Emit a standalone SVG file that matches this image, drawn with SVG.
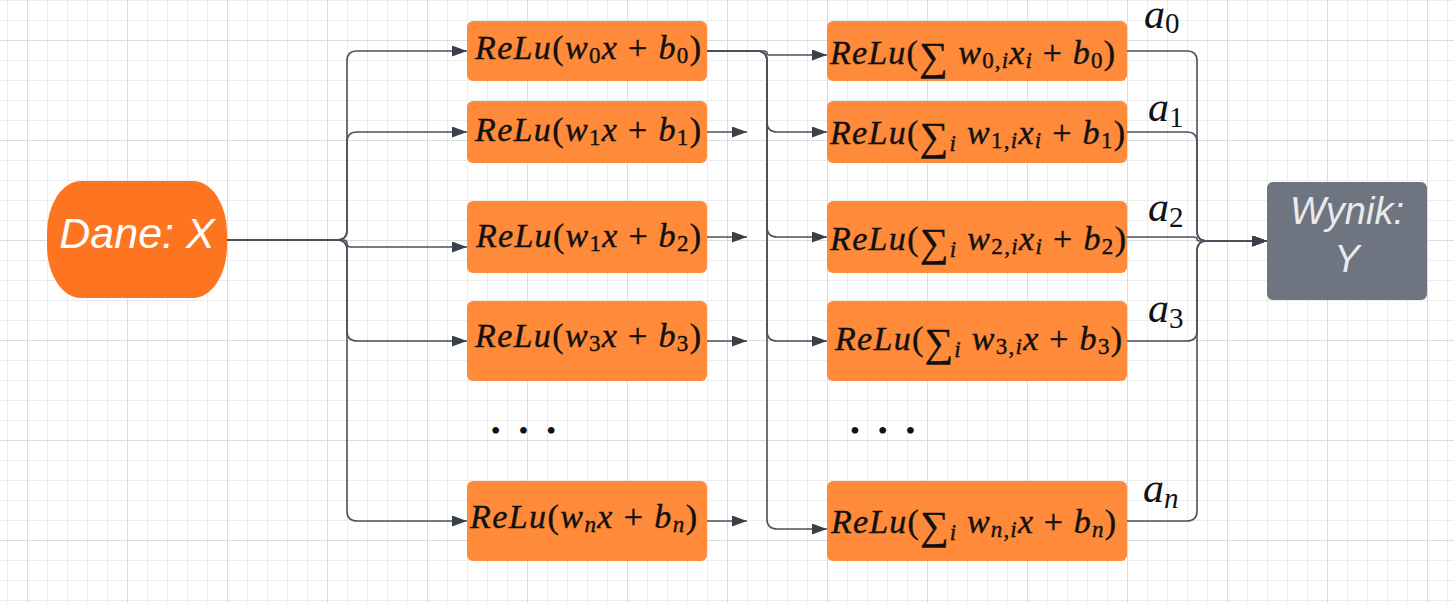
<svg xmlns="http://www.w3.org/2000/svg" width="1454" height="603" viewBox="0 0 1454 603">
<defs>
<style>
.box{fill:#fe8a3a}
.m{font-family:"Liberation Serif","DejaVu Serif",serif;font-size:34px;fill:#111;stroke:#111;stroke-width:0.4}
.i{font-style:italic}
.s{font-size:23px}
.op{font-size:40px}
.lab{font-family:"Liberation Serif","DejaVu Serif",serif;font-size:42px;fill:#111}
.ls{font-size:29px}
.dots{font-family:"Liberation Serif","DejaVu Serif",serif;font-size:28px;fill:#111;letter-spacing:17.9px}
.c{fill:none;stroke:#4b515c;stroke-width:1.6;marker-end:url(#arr)}
.sans{font-family:"Liberation Sans",Arial,sans-serif;font-style:italic}
</style>
<pattern id="minor" patternUnits="userSpaceOnUse" x="7" y="0" width="20" height="20">
<path d="M0.5 0V20M0 0.5H20" stroke="#ececec" stroke-width="1" fill="none"/>
</pattern>
<pattern id="major" patternUnits="userSpaceOnUse" x="27" y="40" width="100" height="100">
<path d="M0.5 0V100M0 0.5H100" stroke="#dcdcdc" stroke-width="1" fill="none"/>
</pattern>
<marker id="arr" markerUnits="userSpaceOnUse" markerWidth="16" markerHeight="12" refX="15" refY="5.5" orient="auto">
<path d="M0 0L15 5.5L0 11z" fill="#3a404a"/>
</marker>
</defs>
<rect width="1454" height="603" fill="#fff"/>
<rect width="1454" height="603" fill="url(#minor)"/>
<rect width="1454" height="603" fill="url(#major)"/>

<g id="connectors">
<path class="c" d="M227 240H337Q347 240 347 230V61Q347 51 357 51H467"/>
<path class="c" d="M227 240H337Q347 240 347 230V142Q347 132 357 132H467"/>
<path class="c" d="M227 240H343.5Q347 240 347 243.5Q347 247 350.5 247H467"/>
<path class="c" d="M227 240H337Q347 240 347 250V331Q347 341 357 341H467"/>
<path class="c" d="M227 240H337Q347 240 347 250V511Q347 521 357 521H467"/>
<path class="c" d="M707 51H763Q767 51 767 53Q767 55 769 55H827"/>
<path class="c" d="M707 51H757Q767 51 767 61V122Q767 132 777 132H827"/>
<path class="c" d="M707 51H757Q767 51 767 61V227Q767 237 777 237H827"/>
<path class="c" d="M707 51H757Q767 51 767 61V331Q767 341 777 341H827"/>
<path class="c" d="M707 51H757Q767 51 767 61V519Q767 529 777 529H827"/>
<path class="c" d="M707 132H747"/>
<path class="c" d="M707 237H747"/>
<path class="c" d="M707 341H747"/>
<path class="c" d="M707 521H747"/>
<path class="c" d="M1127 51H1187Q1197 51 1197 61V231Q1197 241 1207 241H1267"/>
<path class="c" d="M1127 132H1187Q1197 132 1197 142V231Q1197 241 1207 241H1267"/>
<path class="c" d="M1127 237H1193Q1197 237 1197 239Q1197 241 1199 241H1267"/>
<path class="c" d="M1127 341H1187Q1197 341 1197 331V251Q1197 241 1207 241H1267"/>
<path class="c" d="M1127 521H1187Q1197 521 1197 511V251Q1197 241 1207 241H1267"/>
</g>

<g id="dane">
<rect x="47" y="181" width="180" height="117" rx="34" ry="52" fill="#fd7520"/>
<text class="sans" x="137" y="248" text-anchor="middle" font-size="43" fill="#fff">Dane: X</text>
</g>

<g id="wynik">
<rect x="1267" y="182" width="160" height="118" rx="6" fill="#6f7481"/>
<text class="sans" x="1347" y="224" text-anchor="middle" font-size="38" fill="#e9eaec">Wynik:</text>
<text class="sans" x="1347" y="272" text-anchor="middle" font-size="38" fill="#e9eaec">Y</text>
</g>

<g id="h0">
<rect class="box" x="467" y="21" width="240" height="60" rx="6"/>
<text class="m" x="475" y="59" textLength="226" lengthAdjust="spacing"><tspan class="i">ReLu</tspan>(<tspan class="i">w</tspan><tspan class="s" dy="4">0</tspan><tspan class="i" dy="-4">x</tspan> + <tspan class="i">b</tspan><tspan class="s" dy="4">0</tspan><tspan dy="-4">)</tspan></text>
</g>
<g id="h1">
<rect class="box" x="467" y="101" width="240" height="62" rx="6"/>
<text class="m" x="475" y="141" textLength="226" lengthAdjust="spacing"><tspan class="i">ReLu</tspan>(<tspan class="i">w</tspan><tspan class="s" dy="4">1</tspan><tspan class="i" dy="-4">x</tspan> + <tspan class="i">b</tspan><tspan class="s" dy="4">1</tspan><tspan dy="-4">)</tspan></text>
</g>
<g id="h2">
<rect class="box" x="467" y="201" width="240" height="72" rx="6"/>
<text class="m" x="476" y="247" textLength="225" lengthAdjust="spacing"><tspan class="i">ReLu</tspan>(<tspan class="i">w</tspan><tspan class="s" dy="4">1</tspan><tspan class="i" dy="-4">x</tspan> + <tspan class="i">b</tspan><tspan class="s" dy="4">2</tspan><tspan dy="-4">)</tspan></text>
</g>
<g id="h3">
<rect class="box" x="467" y="301" width="240" height="80" rx="6"/>
<text class="m" x="475" y="347" textLength="226" lengthAdjust="spacing"><tspan class="i">ReLu</tspan>(<tspan class="i">w</tspan><tspan class="s" dy="4">3</tspan><tspan class="i" dy="-4">x</tspan> + <tspan class="i">b</tspan><tspan class="s" dy="4">3</tspan><tspan dy="-4">)</tspan></text>
</g>
<g id="hn">
<rect class="box" x="467" y="481" width="240" height="80" rx="6"/>
<text class="m" x="470" y="528" textLength="227" lengthAdjust="spacing"><tspan class="i">ReLu</tspan>(<tspan class="i">w</tspan><tspan class="s i" dy="4">n</tspan><tspan class="i" dy="-4">x</tspan> + <tspan class="i">b</tspan><tspan class="s i" dy="4">n</tspan><tspan dy="-4">)</tspan></text>
</g>

<g id="o0">
<rect class="box" x="827" y="21" width="300" height="60" rx="6"/>
<text class="m" x="830" y="64" textLength="285" lengthAdjust="spacing"><tspan class="i">ReLu</tspan>(<tspan class="op" dy="6">∑</tspan><tspan dy="-6"> </tspan><tspan class="i">w</tspan><tspan class="s" dy="4">0,</tspan><tspan class="s i">i</tspan><tspan class="i" dy="-4">x</tspan><tspan class="s i" dy="4">i</tspan><tspan dy="-4"> + </tspan><tspan class="i">b</tspan><tspan class="s" dy="4">0</tspan><tspan dy="-4">)</tspan></text>
</g>
<g id="o1">
<rect class="box" x="827" y="101" width="300" height="62" rx="6"/>
<text class="m" x="830" y="144" textLength="295" lengthAdjust="spacing"><tspan class="i">ReLu</tspan>(<tspan class="op" dy="6">∑</tspan><tspan class="s i" dy="1">i</tspan><tspan dy="-7"> </tspan><tspan class="i">w</tspan><tspan class="s" dy="4">1,</tspan><tspan class="s i">i</tspan><tspan class="i" dy="-4">x</tspan><tspan class="s i" dy="4">i</tspan><tspan dy="-4"> + </tspan><tspan class="i">b</tspan><tspan class="s" dy="4">1</tspan><tspan dy="-4">)</tspan></text>
</g>
<g id="o2">
<rect class="box" x="827" y="201" width="300" height="72" rx="6"/>
<text class="m" x="830" y="250" textLength="296" lengthAdjust="spacing"><tspan class="i">ReLu</tspan>(<tspan class="op" dy="6">∑</tspan><tspan class="s i" dy="1">i</tspan><tspan dy="-7"> </tspan><tspan class="i">w</tspan><tspan class="s" dy="4">2,</tspan><tspan class="s i">i</tspan><tspan class="i" dy="-4">x</tspan><tspan class="s i" dy="4">i</tspan><tspan dy="-4"> + </tspan><tspan class="i">b</tspan><tspan class="s" dy="4">2</tspan><tspan dy="-4">)</tspan></text>
</g>
<g id="o3">
<rect class="box" x="827" y="301" width="300" height="80" rx="6"/>
<text class="m" x="835" y="350" textLength="287" lengthAdjust="spacing"><tspan class="i">ReLu</tspan>(<tspan class="op" dy="6">∑</tspan><tspan class="s i" dy="1">i</tspan><tspan dy="-7"> </tspan><tspan class="i">w</tspan><tspan class="s" dy="4">3,</tspan><tspan class="s i">i</tspan><tspan class="i" dy="-4">x</tspan> + <tspan class="i">b</tspan><tspan class="s" dy="4">3</tspan><tspan dy="-4">)</tspan></text>
</g>
<g id="on">
<rect class="box" x="827" y="481" width="300" height="80" rx="6"/>
<text class="m" x="831" y="533" textLength="285" lengthAdjust="spacing"><tspan class="i">ReLu</tspan>(<tspan class="op" dy="6">∑</tspan><tspan class="s i" dy="1">i</tspan><tspan dy="-7"> </tspan><tspan class="i">w</tspan><tspan class="s i" dy="4">n</tspan><tspan class="s">,</tspan><tspan class="s i">i</tspan><tspan class="i" dy="-4">x</tspan> + <tspan class="i">b</tspan><tspan class="s i" dy="4">n</tspan><tspan dy="-4">)</tspan></text>
</g>

<g id="labels">
<text class="lab" x="1144" y="28"><tspan class="i">a</tspan><tspan class="ls" dy="5">0</tspan></text>
<text class="lab" x="1148" y="121"><tspan class="i">a</tspan><tspan class="ls" dy="6">1</tspan></text>
<text class="lab" x="1148" y="221"><tspan class="i">a</tspan><tspan class="ls" dy="6">2</tspan></text>
<text class="lab" x="1148" y="322"><tspan class="i">a</tspan><tspan class="ls" dy="6">3</tspan></text>
<text class="lab" x="1143" y="502"><tspan class="i">a</tspan><tspan class="ls i" dy="6">n</tspan></text>
<text class="dots" x="490.8" y="440">•••</text>
<text class="dots" x="850.1" y="440">•••</text>
</g>
</svg>
